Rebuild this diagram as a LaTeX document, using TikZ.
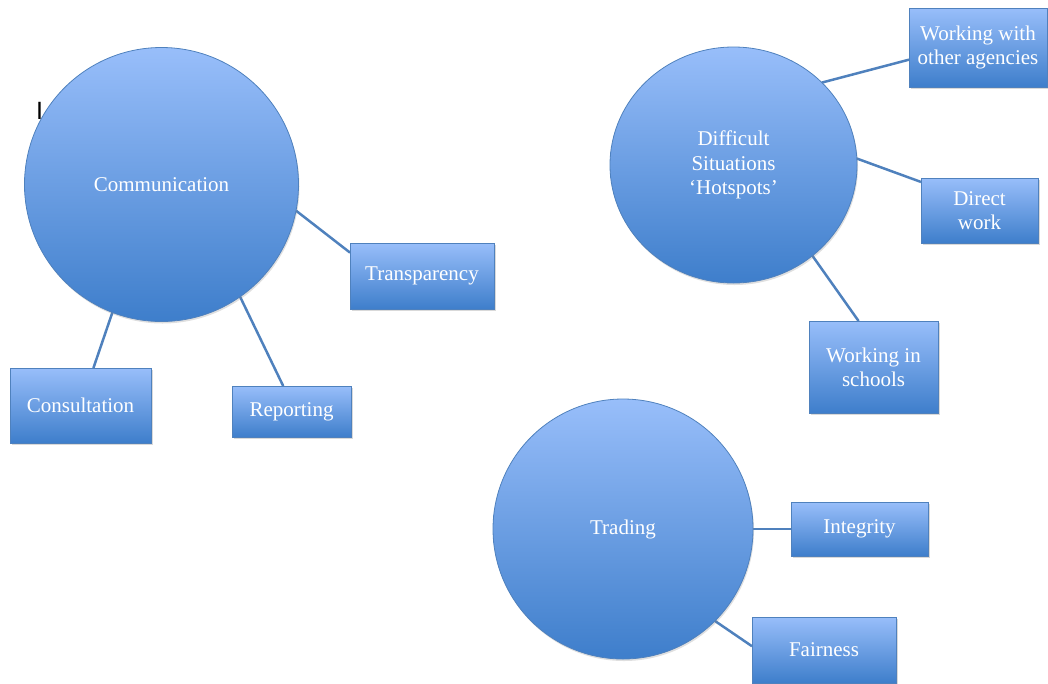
\documentclass[tikz,border=0pt]{standalone}
\usepackage{fontspec}
\setmainfont{Liberation Serif}
\setsansfont{Liberation Sans}
\usetikzlibrary{shapes.geometric,shadows,backgrounds}

\definecolor{topblue}{RGB}{152,190,250}
\definecolor{botblue}{RGB}{62,126,203}
\definecolor{edgeblue}{RGB}{79,129,189}

\tikzset{
  bubble/.style={draw=edgeblue, line width=0.8pt, top color=topblue, bottom color=botblue,
    text=white, align=center, inner sep=0pt, outer sep=0pt,
    font=\fontsize{21}{24.5}\selectfont,
    drop shadow={opacity=0.25, shadow xshift=1pt, shadow yshift=-2pt}},
  leaf/.style={rectangle, draw=edgeblue, line width=0.8pt, top color=topblue, bottom color=botblue,
    text=white, align=center, inner sep=0pt, outer sep=0pt,
    font=\fontsize{21}{24}\selectfont,
    drop shadow={opacity=0.3, shadow xshift=1.5pt, shadow yshift=-2pt}},
  link/.style={draw=edgeblue, line width=2.5pt}
}

\begin{document}
\begin{tikzpicture}[x=1pt,y=-1pt]
  \useasboundingbox (0,0) rectangle (1048,683);

  % Draw the three main circles
  \node[bubble, circle, minimum size=274] (comm) at (161.5,184.5) {Communication};
  \node[bubble, ellipse, minimum width=247, minimum height=236] (diff) at (733.5,165)
    {Difficult\\Situations\\`Hotspots'};
  \node[bubble, circle, minimum size=260] (trad) at (623,529) {Trading};

  % Draw the boxes round Communication
  \node[leaf, minimum width=144, minimum height=66] (transp) at (422,276) {Transparency};
  \node[leaf, minimum width=141, minimum height=75] (consult) at (80.5,405.5) {Consultation};
  \node[leaf, minimum width=119, minimum height=51] (report) at (291.5,411.5) {Reporting};

  % Draw the boxes round the hotspots
  \node[leaf, minimum width=138, minimum height=79] (agencies) at (978,47.5) {Working with\\other agencies};
  \node[leaf, minimum width=117, minimum height=65] (direct) at (979.5,210.5) {Direct\\work};
  \node[leaf, minimum width=129, minimum height=92] (schools) at (873.5,367) {Working in\\schools};

  % Draw the boxes round Trading
  \node[leaf, minimum width=137, minimum height=54] (integ) at (859.5,529) {Integrity};
  \node[leaf, minimum width=144, minimum height=66] (fair) at (824,650) {Fairness};

  % Stray cursor mark at the top left
  \node[inner sep=0pt, font=\sffamily\fontsize{25}{25}\selectfont] (cursor) at (39.5,111) {I};

  % Draw the connectors behind everything
  \begin{scope}[on background layer]
    \draw[link] (comm.-11.6) -- (transp.162.3);
    \draw[link] (comm.249.3) -- (consult.71.6);
    \draw[link] (comm.-55.1) -- (report.108.4);
    \draw[link] (diff.43.8) -- (agencies.190.4);
    \draw[link] (diff.3.3) -- (direct.154.4);
    \draw[link] (diff.-49.5) -- (schools.108.3);
    \draw[link] (trad.east) -- (integ.west);
    \draw[link] (trad.-45.3) -- (fair.177.6);
  \end{scope}
\end{tikzpicture}
\end{document}
